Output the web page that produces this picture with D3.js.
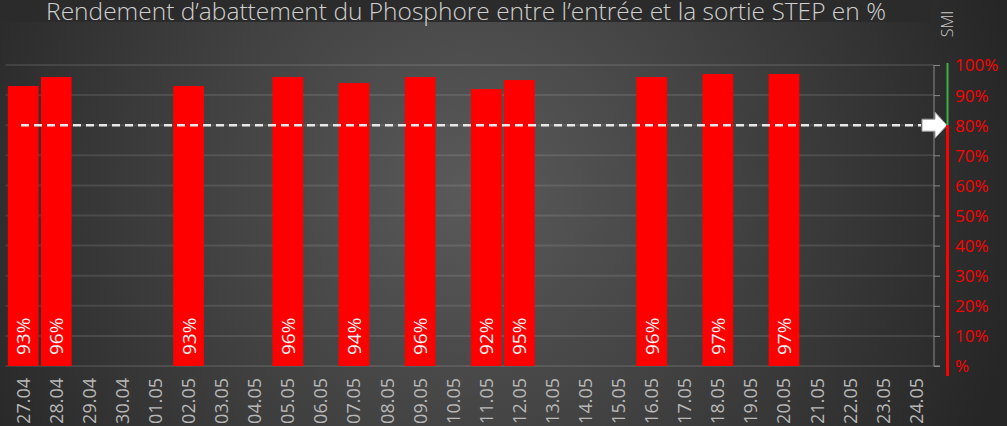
<!DOCTYPE html>
<html>
<head>
<meta charset="utf-8">
<script src="https://cdnjs.cloudflare.com/ajax/libs/d3/7.8.5/d3.min.js"></script>
<style>
  html, body { margin: 0; padding: 0; background: #2a2a2a; overflow: hidden; }
  svg { display: block; }
</style>
</head>
<body>
<script>
var dates = ["27.04", "28.04", "29.04", "30.04", "01.05", "02.05", "03.05", "04.05",
             "05.05", "06.05", "07.05", "08.05", "09.05", "10.05", "11.05", "12.05",
             "13.05", "14.05", "15.05", "16.05", "17.05", "18.05", "19.05", "20.05",
             "21.05", "22.05", "23.05", "24.05"];
var rendement = [93, 96, null, null, null, 93, null, null,
                 96, null, 94, null, 96, null, 92, 95,
                 null, null, null, 96, null, 97, null, 97,
                 null, null, null, null];
var seuil = 80;
var yTicks = [0, 10, 20, 30, 40, 50, 60, 70, 80, 90, 100];
var titre = "Rendement d\u2019abattement du Phosphore entre l\u2019entrée et la sortie STEP en %";

var w = 1007, h = 426,
    pd = { left: 5.5, right: 934, top: 65, bottom: 366 };

var svg = d3.select("body").append("svg")
    .attr("width", w).attr("height", h);

var defs = svg.append("defs");
var grad = defs.append("radialGradient")
    .attr("id", "bg")
    .attr("gradientUnits", "userSpaceOnUse")
    .attr("cx", 470).attr("cy", 190).attr("r", 560);
grad.append("stop").attr("offset", "0%").attr("stop-color", "#5a5a5a");
grad.append("stop").attr("offset", "100%").attr("stop-color", "#262626");

svg.append("rect").attr("width", w).attr("height", h).attr("fill", "url(#bg)");
svg.append("rect").attr("width", 931).attr("height", 22).attr("fill", "#2b2b2b");

var x = d3.scaleBand().domain(dates).range([pd.left, pd.right]).padding(0.07);
var y = d3.scaleLinear().domain([0, 100]).range([pd.bottom, pd.top]);

// grille
svg.append("g").selectAll("line")
    .data(yTicks)
    .enter().append("line")
    .attr("x1", pd.left).attr("x2", pd.right)
    .attr("y1", function(d) { return y(d); })
    .attr("y2", function(d) { return y(d); })
    .attr("stroke", "#ffffff").attr("stroke-opacity", 0.1)
    .attr("stroke-width", 2);

// axe de droite (gris)
var axisR = svg.append("g")
    .attr("transform", "translate(" + pd.right + ",0)")
    .call(d3.axisRight(y).tickValues(yTicks).tickSize(6).tickFormat(""));
axisR.select(".domain").attr("stroke", "#8a8a8a").attr("d", "M0," + y(100) + "V" + y(0) + "H6");
axisR.selectAll(".tick line").attr("stroke", "#8a8a8a");

// barres
var vals = dates.map(function(d, i) { return { date: d, v: rendement[i] }; })
    .filter(function(d) { return d.v !== null; });

svg.append("g").selectAll("rect")
    .data(vals)
    .enter().append("rect")
    .attr("fill", "#ff0000")
    .attr("x", function(d) { return x(d.date); })
    .attr("y", function(d) { return y(d.v); })
    .attr("width", x.bandwidth())
    .attr("height", function(d) { return y(0) - y(d.v); });

svg.append("g").selectAll("text")
    .data(vals)
    .enter().append("text")
    .attr("fill", "#f2f2f2")
    .attr("font-family", "Open Sans")
    .attr("font-size", "19px")
    .attr("transform", function(d) {
        return "translate(" + (x(d.date) + x.bandwidth() / 2 + 7) + "," + (y(0) - 11) + ") rotate(-90)";
    })
    .text(function(d) { return d.v + "%"; });

// libellés de dates
svg.append("g").selectAll("text")
    .data(dates)
    .enter().append("text")
    .attr("fill", "#b8b8b8")
    .attr("font-family", "Open Sans")
    .attr("font-size", "18px")
    .attr("text-anchor", "end")
    .attr("transform", function(d) {
        return "translate(" + (x(d) + x.bandwidth() / 2 + 6.5) + ",378) rotate(-90)";
    })
    .text(function(d) { return d; });

// ligne de seuil
svg.append("line")
    .attr("x1", 21).attr("x2", 921)
    .attr("y1", y(seuil)).attr("y2", y(seuil))
    .attr("stroke", "#e8e8e8").attr("stroke-width", 2.5)
    .attr("stroke-dasharray", "8,5");

// flèche
var ay = y(seuil);
svg.append("path")
    .attr("d", "M922," + (ay - 6) + "H935V" + (ay - 13) + "L947," + ay + "L935," + (ay + 13) + "V" + (ay + 6) + "H922Z")
    .attr("fill", "#ffffff").attr("stroke", "#9a9a9a").attr("stroke-width", 1);

// axe SMI
var ax = 947.5;
svg.append("line").attr("x1", ax).attr("x2", ax)
    .attr("y1", y(100) - 2).attr("y2", y(seuil))
    .attr("stroke", "#3cb043").attr("stroke-width", 2);
svg.append("line").attr("x1", ax).attr("x2", ax)
    .attr("y1", y(seuil)).attr("y2", y(0) + 10)
    .attr("stroke", "#ff0000").attr("stroke-width", 3);

svg.append("g").selectAll("text")
    .data(yTicks)
    .enter().append("text")
    .attr("x", 955)
    .attr("y", function(d) { return y(d); })
    .attr("dy", "0.38em")
    .attr("fill", "#ff0000")
    .attr("font-family", "Open Sans")
    .attr("font-size", "17px")
    .text(function(d) { return d === 0 ? "%" : d + "%"; });

svg.append("text")
    .attr("transform", "translate(953,24) rotate(-90)")
    .attr("text-anchor", "middle")
    .attr("fill", "#c8c8c8")
    .attr("font-family", "Open Sans")
    .attr("font-weight", 300)
    .attr("font-size", "16px")
    .text("SMI");

// titre
svg.append("text")
    .attr("x", 466).attr("y", 20)
    .attr("text-anchor", "middle")
    .attr("fill", "#d0d0d0")
    .attr("font-family", "Open Sans")
    .attr("font-weight", 300)
    .attr("font-size", "24.5px")
    .text(titre);
</script>
</body>
</html>
